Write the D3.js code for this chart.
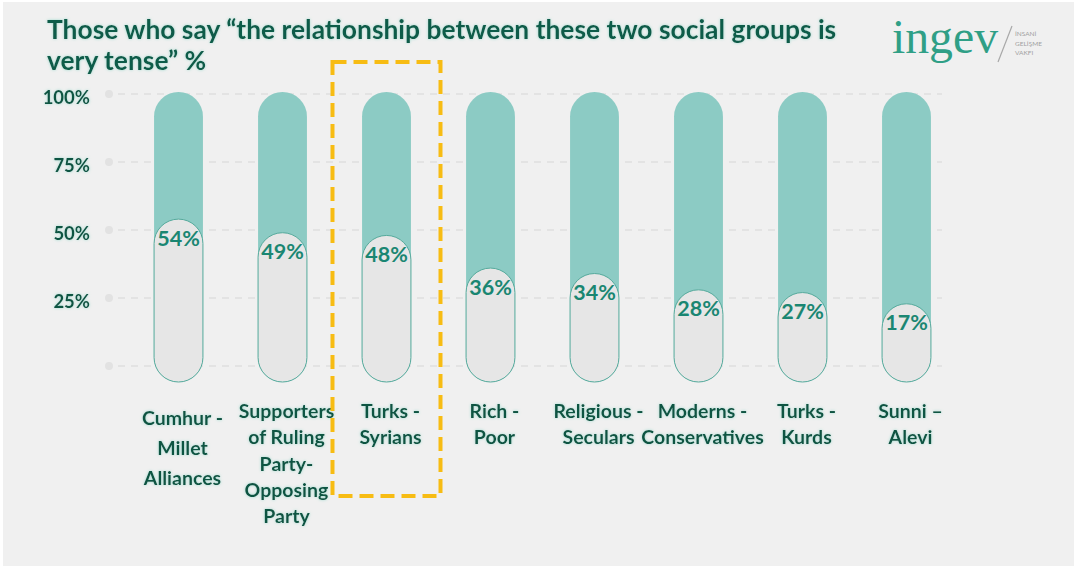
<!DOCTYPE html>
<html>
<head>
<meta charset="utf-8">
<script src="https://cdn.jsdelivr.net/npm/d3@7"></script>
<style>
  html, body { margin: 0; padding: 0; background: #ffffff; }
  svg { display: block; }
</style>
</head>
<body>
<svg id="chart" width="1077" height="567"></svg>
<script>
// ---- data ----
const categories = [
  ["Cumhur -", "Millet", "Alliances"],
  ["Supporters", "of Ruling", "Party-", "Opposing", "Party"],
  ["Turks -", "Syrians"],
  ["Rich -", "Poor"],
  ["Religious -", "Seculars"],
  ["Moderns -", "Conservatives"],
  ["Turks -", "Kurds"],
  ["Sunni \u2013", "Alevi"]
];
const values = [54, 49, 48, 36, 34, 28, 27, 17];
const yTicks = [0, 25, 50, 75, 100];
const yTickLabels = ["", "25%", "50%", "75%", "100%"];
const titleLines = [
  "Those who say \u201cthe relationship between these two social groups is",
  "very tense\u201d %"
];
const highlightIndex = 2;

// ---- setup ----
const svg = d3.select("#chart");
const W = 1077, H = 567;
const SANS = "Lato, 'Open Sans', sans-serif";

const defs = svg.append("defs");
const glow = defs.append("filter").attr("id", "glow")
  .attr("x", "-10%").attr("y", "-30%").attr("width", "120%").attr("height", "160%");
glow.append("feGaussianBlur").attr("in", "SourceAlpha").attr("stdDeviation", 1.6).attr("result", "b");
glow.append("feFlood").attr("flood-color", "#8fd6c8").attr("flood-opacity", 0.85);
glow.append("feComposite").attr("in2", "b").attr("operator", "in").attr("result", "g");
const fm = glow.append("feMerge");
fm.append("feMergeNode").attr("in", "g");
fm.append("feMergeNode").attr("in", "SourceGraphic");

// slide background
svg.append("rect").attr("x", 3).attr("y", 2).attr("width", W - 6).attr("height", H - 3)
  .attr("fill", "#f0f0f0");

// scales
const x = d3.scaleBand().domain(d3.range(categories.length)).range([126.5, 958.5]).paddingInner(0.53).paddingOuter(0.265);
const y = d3.scaleLinear().domain([0, 100]).range([366, 94]);
const barW = x.bandwidth();
const cx = i => x(i) + barW / 2;
const capExtra = 16; // capsule extends below the zero line

// gridlines
const grid = svg.append("g");
grid.selectAll("line").data(yTicks).join("line")
  .attr("x1", 118).attr("x2", 942)
  .attr("y1", d => y(d)).attr("y2", d => y(d))
  .attr("stroke", "#dedede").attr("stroke-width", 1.5).attr("stroke-dasharray", "7 6");
grid.selectAll("circle").data(yTicks).join("circle")
  .attr("cx", 109).attr("cy", d => y(d)).attr("r", 4).attr("fill", "#e2e2e2");

// y labels
svg.append("g").selectAll("text").data(yTicks).join("text")
  .attr("x", 90).attr("y", d => y(d) + 5)
  .attr("text-anchor", "end").attr("dominant-baseline", "middle")
  .style("font-family", SANS)
  .attr("font-size", 18.5).attr("font-weight", 700).attr("fill", "#0d5443")
  .attr("filter", "url(#glow)")
  .text((d, i) => yTickLabels[i]);

// background capsules (100%)
const bars = svg.append("g");
bars.selectAll("rect.bg").data(values).join("rect").attr("class", "bg")
  .attr("x", (d, i) => x(i))
  .attr("y", y(100) - 2)
  .attr("width", barW)
  .attr("height", y(0) + capExtra - (y(100) - 2))
  .attr("rx", barW / 2).attr("ry", barW / 2)
  .attr("fill", "#8ccbc4");

// value capsules
const capTop = d => Math.min(y(d), y(0) + capExtra - barW * 1.6);
bars.selectAll("rect.val").data(values).join("rect").attr("class", "val")
  .attr("x", (d, i) => x(i))
  .attr("y", d => capTop(d))
  .attr("width", barW)
  .attr("height", d => y(0) + capExtra - capTop(d))
  .attr("rx", barW / 2).attr("ry", barW / 2)
  .attr("fill", "#e6e6e6").attr("stroke", "#55aa9c").attr("stroke-width", 1);

// value labels
bars.selectAll("text").data(values).join("text")
  .attr("x", (d, i) => cx(i))
  .attr("y", d => capTop(d) + 21)
  .attr("text-anchor", "middle").attr("dominant-baseline", "middle")
  .style("font-family", SANS)
  .attr("font-size", 21.5).attr("font-weight", 700).attr("fill", "#1a8672")
  .text(d => d + "%");

// category labels
const lab = svg.append("g");
categories.forEach((lines, i) => {
  const first = i === 0 ? 420 : 413;
  const lh = i === 0 ? 30 : 26.3;
  const t = lab.append("text")
    .attr("text-anchor", "middle")
    .style("font-family", SANS)
    .attr("font-size", 19.5).attr("font-weight", 700).attr("fill", "#0d5443")
    .attr("filter", "url(#glow)");
  lines.forEach((ln, k) => {
    t.append("tspan").attr("x", cx(i) + 4).attr("y", first + k * lh)
      .attr("dominant-baseline", "middle").text(ln);
  });
});

// highlight box
svg.append("rect")
  .attr("x", cx(highlightIndex) - 54).attr("y", 62)
  .attr("width", 108).attr("height", 434)
  .attr("fill", "none").attr("stroke", "#f7bc13").attr("stroke-width", 4)
  .attr("stroke-dasharray", "14 7");

// title
const title = svg.append("text").style("font-family", SANS)
  .attr("font-size", 26.4).attr("font-weight", 700)
  .attr("fill", "#0c5c49").attr("filter", "url(#glow)");
titleLines.forEach((ln, k) => {
  title.append("tspan").attr("x", 47).attr("y", 39 + k * 31).text(ln);
});

// logo
const logo = svg.append("g");
logo.append("text").attr("x", 892).attr("y", 53)
  .style("font-family", "'Liberation Serif', 'DejaVu Serif', serif")
  .attr("font-size", 48).attr("fill", "#2f9f86").attr("textLength", 106)
  .attr("lengthAdjust", "spacingAndGlyphs")
  .text("ingev");
logo.append("line").attr("x1", 1012).attr("y1", 26).attr("x2", 998).attr("y2", 62)
  .attr("stroke", "#a8a8a8").attr("stroke-width", 1.2);
["\u0130NSAN\u0130", "GEL\u0130\u015EME", "VAKFI"].forEach((s, k) => {
  logo.append("text").attr("x", 1015).attr("y", 36 + k * 9.5)
    .style("font-family", SANS)
    .attr("font-size", 6.5).attr("fill", "#a0a0a0").text(s);
});
</script>
</body>
</html>
